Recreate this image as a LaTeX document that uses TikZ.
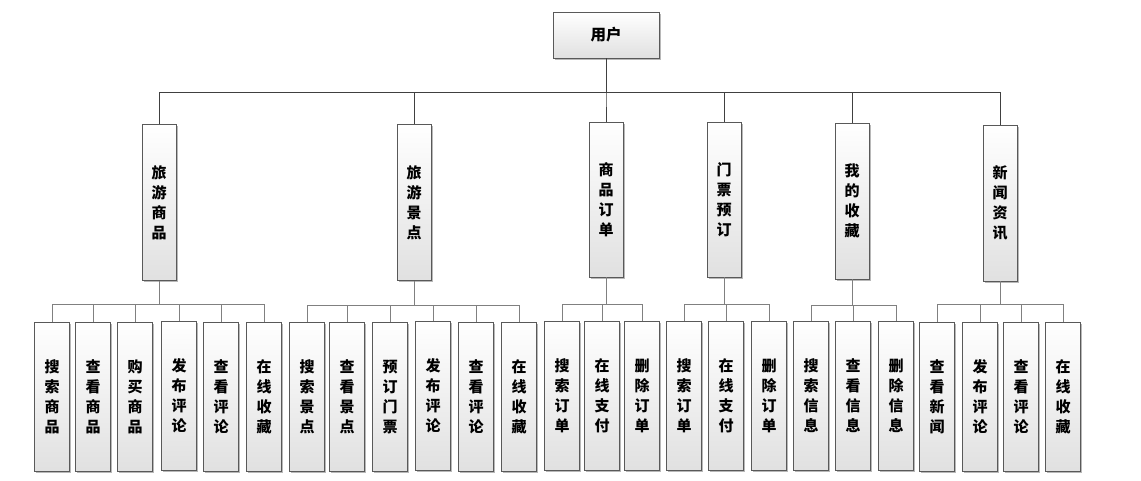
\documentclass[tikz,border=0pt]{standalone}
\usepackage{fontspec}
\setmainfont{Noto Sans CJK SC}
\usetikzlibrary{shadows}
\begin{document}
\begin{tikzpicture}[x=1pt,y=-1pt,
  boxbase/.style={draw=black!65, line width=0.8pt, top color=white, bottom color=black!12,
    drop shadow={shadow xshift=1.6pt, shadow yshift=-1.6pt, fill=black!35, opacity=0.8},
    inner sep=0pt, font=\fontsize{15}{20}\selectfont\bfseries, align=center},
  rootbox/.style={boxbase, minimum width=106pt, minimum height=46pt, font=\fontsize{15.5}{18}\selectfont\bfseries},
  midbox/.style={boxbase, minimum width=34pt, minimum height=156pt},
  leafbox/.style={boxbase, minimum width=35pt, minimum height=149pt},
  topline/.style={draw=black!75, line width=0.8pt},
  busline/.style={draw=black!50, line width=0.9pt}
]
\useasboundingbox (0,0) rectangle (1141,480);

\node[rootbox] (root) at (606,35) {用户};

\node[midbox] (m1) at (159,202.5) {旅\\游\\商\\品};
\node[midbox] (m2) at (414,202.5) {旅\\游\\景\\点};
\node[midbox, minimum height=155pt] (m3) at (606,199.5) {商\\品\\订\\单};
\node[midbox, minimum height=155pt] (m4) at (724,199.5) {门\\票\\预\\订};
\node[midbox] (m5) at (852,201) {我\\的\\收\\藏};
\node[midbox] (m6) at (1000,203) {新\\闻\\资\\讯};

\foreach \m in {m1,m2,m3,m4,m5,m6}
  \draw[topline] (root.south) -- +(0,34) -| (\m.north);

% group 1
\node[leafbox] (a1) at (52,397) {搜\\索\\商\\品};
\node[leafbox] (a2) at (93,397) {查\\看\\商\\品};
\node[leafbox] (a3) at (135,397) {购\\买\\商\\品};
\node[leafbox] (a4) at (179,396) {发\\布\\评\\论};
\node[leafbox] (a5) at (221,397) {查\\看\\评\\论};
\node[leafbox] (a6) at (264,397) {在\\线\\收\\藏};
% group 2
\node[leafbox] (b1) at (307,397) {搜\\索\\景\\点};
\node[leafbox] (b2) at (347,397) {查\\看\\景\\点};
\node[leafbox] (b3) at (390,397) {预\\订\\门\\票};
\node[leafbox] (b4) at (433,396) {发\\布\\评\\论};
\node[leafbox] (b5) at (476,397) {查\\看\\评\\论};
\node[leafbox] (b6) at (519,397) {在\\线\\收\\藏};
% group 3
\node[leafbox] (c1) at (562,396) {搜\\索\\订\\单};
\node[leafbox] (c2) at (602,396) {在\\线\\支\\付};
\node[leafbox] (c3) at (642,396) {删\\除\\订\\单};
% group 4
\node[leafbox] (d1) at (684,396) {搜\\索\\订\\单};
\node[leafbox] (d2) at (726,396) {在\\线\\支\\付};
\node[leafbox] (d3) at (769,396) {删\\除\\订\\单};
% group 5
\node[leafbox] (e1) at (811,396) {搜\\索\\信\\息};
\node[leafbox] (e2) at (853,396) {查\\看\\信\\息};
\node[leafbox] (e3) at (896,396) {删\\除\\信\\息};
% group 6
\node[leafbox] (f1) at (937,397) {查\\看\\新\\闻};
\node[leafbox] (f2) at (980,397) {发\\布\\评\\论};
\node[leafbox] (f3) at (1021,397) {查\\看\\评\\论};
\node[leafbox] (f4) at (1063,397) {在\\线\\收\\藏};

\foreach \l in {a1,a2,a3,a4,a5,a6}
  \draw[busline] (m1.south) -- +(0,24) -| (\l.north);
\foreach \l in {b1,b2,b3,b4,b5,b6}
  \draw[busline] (m2.south) -- +(0,25) -| (\l.north);
\foreach \l in {c1,c2,c3}
  \draw[busline] (m3.south) -- +(0,27) -| (\l.north);
\foreach \l in {d1,d2,d3}
  \draw[busline] (m4.south) -- +(0,27) -| (\l.north);
\foreach \l in {e1,e2,e3}
  \draw[busline] (m5.south) -- +(0,26) -| (\l.north);
\foreach \l in {f1,f2,f3,f4}
  \draw[busline] (m6.south) -- +(0,23) -| (\l.north);
\end{tikzpicture}
\end{document}
